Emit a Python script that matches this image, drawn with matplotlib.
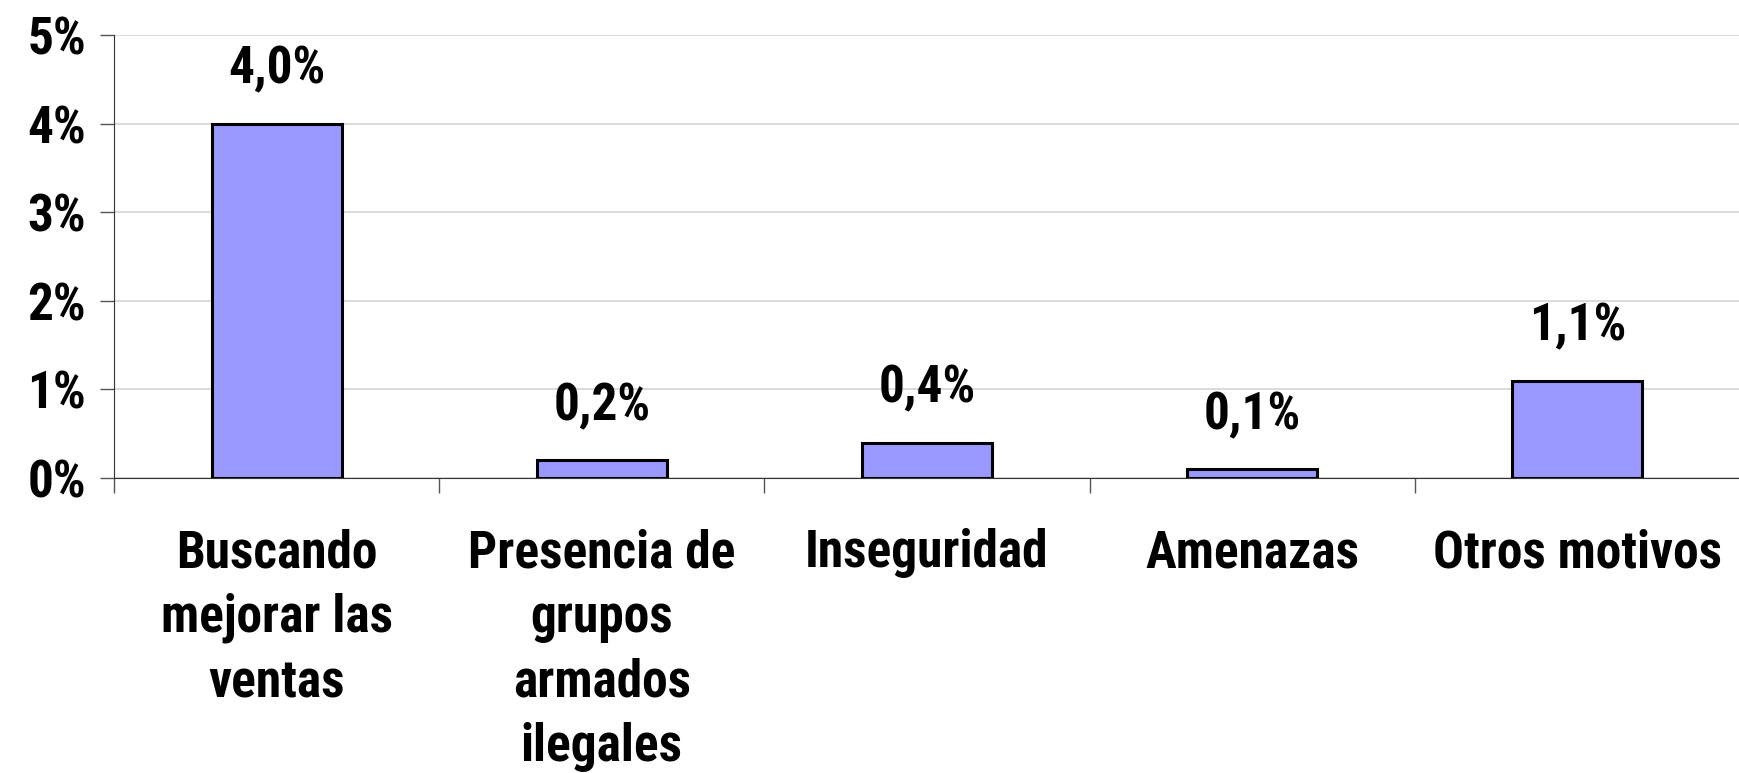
import matplotlib.pyplot as plt
from matplotlib.ticker import FixedLocator, NullFormatter

categorias = ["Buscando\nmejorar las\nventas", "Presencia de\ngrupos\narmados\nilegales",
              "Inseguridad", "Amenazas", "Otros motivos"]
valores = [4.0, 0.2, 0.4, 0.1, 1.1]
etiquetas = ["4,0%", "0,2%", "0,4%", "0,1%", "1,1%"]
yticks = [0, 1, 2, 3, 4, 5]
ytick_labels = ["0%", "1%", "2%", "3%", "4%", "5%"]

plt.rcParams["font.family"] = ["Roboto Condensed", "Liberation Sans", "DejaVu Sans"]
plt.rcParams["font.weight"] = "bold"

fig = plt.figure(figsize=(17.4, 7.73), dpi=100)
ax = fig.add_axes([0.0655, 0.3816, 0.9345, 0.5731])

x = list(range(len(valores)))
ax.bar(x, valores, width=0.4, color="#9999FF", edgecolor="black", linewidth=2.2, zorder=3)

for xi, v, t in zip(x, valores, etiquetas):
    ax.annotate(t, (xi, v), xytext=(0, 39), textcoords="offset points",
                ha="center", va="center", fontsize=37, fontweight="bold")

ax.set_xlim(-0.5, len(valores) - 0.5)
ax.set_ylim(0, 5)
ax.set_yticks(yticks)
ax.set_yticklabels(ytick_labels, fontsize=37, fontweight="bold")
ax.yaxis.grid(True, color="#d4d4d4", linewidth=1.2, zorder=0)
ax.set_axisbelow(True)

# ticks mayores en los limites de categoria, etiquetas en el centro
ax.xaxis.set_major_locator(FixedLocator([i + 0.5 for i in range(-1, len(valores))]))
ax.xaxis.set_major_formatter(NullFormatter())
ax.xaxis.set_minor_locator(FixedLocator(x))
ax.set_xticklabels(categorias, minor=True, fontsize=37, fontweight="bold", linespacing=1.38)
ax.tick_params(axis="x", which="major", length=11, width=1, color="#555555", direction="out")
ax.tick_params(axis="x", which="minor", length=0, pad=36)
ax.tick_params(axis="y", length=10, width=1, color="#555555", pad=10)

for s in ["top", "right"]:
    ax.spines[s].set_visible(False)
ax.spines["left"].set_color("#333333")
ax.spines["bottom"].set_color("#333333")

fig.savefig("out.png", dpi=100)
